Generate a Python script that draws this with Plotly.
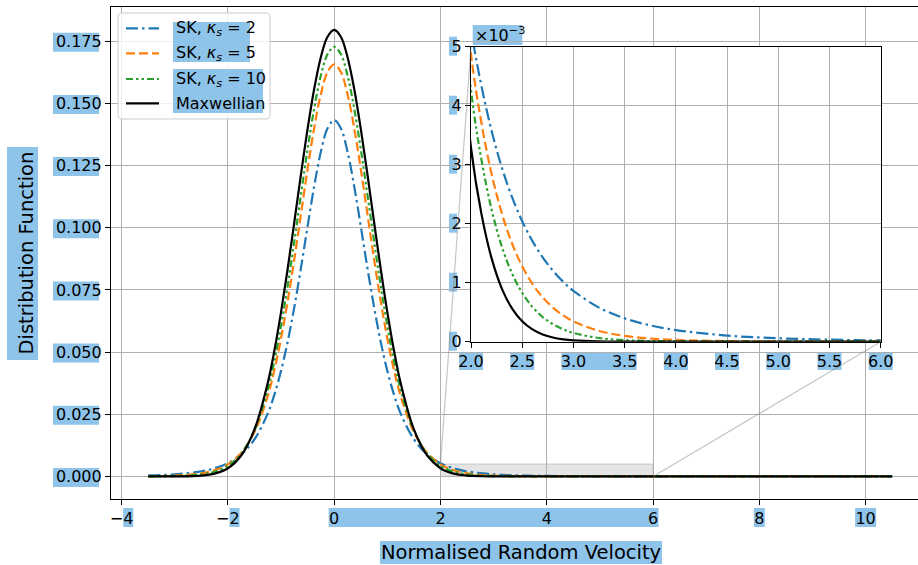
import plotly.graph_objects as go

# ---------------------------------------------------------------------------
# Data: normalised random velocity and the distribution function values
# ---------------------------------------------------------------------------
velocity = [-3.5, -3.0, -2.5, -2.25, -2.0, -1.75, -1.5, -1.25, -1.125, -1.0, -0.875, -0.75,
            -0.625, -0.5, -0.375, -0.25, -0.125,
            0.0, 0.125, 0.25, 0.375, 0.5, 0.625, 0.75, 0.875, 1.0, 1.125, 1.25, 1.5, 1.75,
            2.0, 2.1, 2.2, 2.3, 2.4, 2.5, 2.6, 2.7, 2.8, 2.9, 3.0,
            3.25, 3.5, 3.75, 4.0, 4.5, 5.0, 5.5, 6.0, 7.0, 8.0, 9.0, 10.0, 10.5]

sk_kappa2 = [0.000396, 0.000861, 0.002042, 0.003254, 0.005307, 0.008835, 0.014933, 0.025354,
             0.032916, 0.042456, 0.054191, 0.068126,
             0.083901, 0.100636, 0.116864, 0.130654, 0.139983,
             0.143290, 0.139983, 0.130654, 0.116864, 0.100636, 0.083901, 0.068126, 0.054191,
             0.042456, 0.032916, 0.025354, 0.014933, 0.008835,
             0.005307, 0.004352, 0.003582, 0.002959, 0.002453, 0.002042, 0.001705, 0.001430,
             0.001203, 0.001016, 0.000861,
             0.000578, 0.000396, 0.000277, 0.000197, 0.000104, 0.0000582, 0.0000342, 0.0000209,
             0.0000086, 0.0000040, 0.0000020, 0.0000011, 0.0000008]

sk_kappa5 = [0.0000983, 0.000344, 0.001277, 0.002494, 0.004872, 0.009427, 0.017830, 0.032416,
             0.042794, 0.055497, 0.070484, 0.087409,
             0.105522, 0.123658, 0.140307, 0.153811, 0.162640,
             0.165713, 0.162640, 0.153811, 0.140307, 0.123658, 0.105522, 0.087409, 0.070484,
             0.055497, 0.042794, 0.032416, 0.017830, 0.009427,
             0.004872, 0.003729, 0.002852, 0.002181, 0.001668, 0.001277, 0.000979, 0.000751,
             0.000578, 0.000445, 0.000344,
             0.000182, 0.0000983, 0.0000540, 0.0000302, 0.0000100, 0.0000036, 0.0000014, 0.0000005,
             0.0000001, 0.0, 0.0, 0.0, 0.0]

sk_kappa10 = [0.0000261, 0.000148, 0.000828, 0.001908, 0.004266, 0.009144, 0.018532, 0.034983,
              0.046571, 0.060549, 0.076735, 0.094622,
              0.113335, 0.131661, 0.148155, 0.161310, 0.169811,
              0.172753, 0.169811, 0.161310, 0.148155, 0.131661, 0.113335, 0.094622, 0.076735,
              0.060549, 0.046571, 0.034983, 0.018532, 0.009144,
              0.004266, 0.003105, 0.002247, 0.001618, 0.001160, 0.000828, 0.000589, 0.000418,
              0.000297, 0.000210, 0.000148,
              0.0000622, 0.0000261, 0.0000110, 0.0000047, 0.0000009, 0.0000002, 0.0, 0.0,
              0.0, 0.0, 0.0, 0.0, 0.0]

maxwellian = [0.0000009, 0.0000222, 0.000347, 0.001137, 0.003289, 0.008400, 0.018928, 0.037643,
              0.050655, 0.066066, 0.083516, 0.102326,
              0.121515, 0.139862, 0.156028, 0.168706, 0.176803,
              0.179587, 0.176803, 0.168706, 0.156028, 0.139862, 0.121515, 0.102326, 0.083516,
              0.066066, 0.050655, 0.037643, 0.018928, 0.008400,
              0.003289, 0.002183, 0.001420, 0.000905, 0.000566, 0.000347, 0.000208, 0.000123,
              0.0000707, 0.0000400, 0.0000222,
              0.0000047, 0.0000009, 0.0000001, 0.0, 0.0, 0.0, 0.0, 0.0,
              0.0, 0.0, 0.0, 0.0, 0.0]

series_labels = ["SK, <i>κ<sub>s</sub></i> = 2", "SK, <i>κ<sub>s</sub></i> = 5",
                 "SK, <i>κ<sub>s</sub></i> = 10", "Maxwellian"]

main_xticks = [-4, -2, 0, 2, 4, 6, 8, 10]
main_yticks = [0.0, 0.025, 0.05, 0.075, 0.1, 0.125, 0.15, 0.175]
inset_xticks = [2.0, 2.5, 3.0, 3.5, 4.0, 4.5, 5.0, 5.5, 6.0]
inset_yticks = [0.0, 0.001, 0.002, 0.003, 0.004, 0.005]
inset_yticklabels = ["0", "1", "2", "3", "4", "5"]

x_title = "Normalised Random Velocity"
y_title = "Distribution Function"
inset_offset_text = "×10<sup>−3</sup>"

# ---------------------------------------------------------------------------
# Geometry and styling
# ---------------------------------------------------------------------------
FIG_W, FIG_H = 918, 565
M_L, M_R, M_T, M_B = 111, 0, 7, 66
PLOT_W = FIG_W - M_L - M_R
PLOT_H = FIG_H - M_T - M_B

X_RANGE = [-4.2, 10.986]
Y_RANGE = [-0.00908, 0.18878]
INSET_X_RANGE = [2.0, 6.0]
INSET_Y_RANGE = [0.0, 0.005]
INSET_LEFT, INSET_RIGHT, INSET_TOP, INSET_BOTTOM = 471.0, 880.7, 46.7, 341.7

FONT = "DejaVu Sans"
TICK_SIZE = 16
TITLE_SIZE = 19.5
HIGHLIGHT = "#8fc4ea"
GRID = "#b0b0b0"

styles = [
    dict(color="#1f77b4", dash="12px,4px,2.5px,4px"),
    dict(color="#ff7f0e", dash="9px,4px"),
    dict(color="#2ca02c", dash="7px,3px,2.5px,3px,2.5px,3px"),
    dict(color="#000000", dash="solid"),
]
LINE_W = 2.2


def paper_x(px):
    return (px - M_L) / PLOT_W


def paper_y(py):
    return (FIG_H - M_B - py) / PLOT_H


def main_px_x(v):
    return M_L + (v - X_RANGE[0]) / (X_RANGE[1] - X_RANGE[0]) * PLOT_W


def main_px_y(f):
    return M_T + (Y_RANGE[1] - f) / (Y_RANGE[1] - Y_RANGE[0]) * PLOT_H


def main_data_x(px):
    return X_RANGE[0] + (px - M_L) / PLOT_W * (X_RANGE[1] - X_RANGE[0])


def main_data_y(py):
    return Y_RANGE[1] - (py - M_T) / PLOT_H * (Y_RANGE[1] - Y_RANGE[0])


def inset_px_x(v):
    return INSET_LEFT + (v - INSET_X_RANGE[0]) / (INSET_X_RANGE[1] - INSET_X_RANGE[0]) * (INSET_RIGHT - INSET_LEFT)


def inset_px_y(f):
    return INSET_BOTTOM - (f - INSET_Y_RANGE[0]) / (INSET_Y_RANGE[1] - INSET_Y_RANGE[0]) * (INSET_BOTTOM - INSET_TOP)


def px_rect(x0, x1, y0, y1, layer="below", fill=HIGHLIGHT):
    return dict(type="rect", xref="paper", yref="paper", layer=layer,
                x0=paper_x(x0), x1=paper_x(x1), y0=paper_y(y1), y1=paper_y(y0),
                fillcolor=fill, line=dict(width=0))


series = [sk_kappa2, sk_kappa5, sk_kappa10, maxwellian]

fig = go.Figure()

# opaque backing for the inset panel so the main grid does not show through it
bx0, bx1 = main_data_x(INSET_LEFT), main_data_x(INSET_RIGHT)
by0, by1 = main_data_y(INSET_BOTTOM), main_data_y(INSET_TOP)
fig.add_trace(go.Scatter(
    x=[bx0, bx1, bx1, bx0, bx0], y=[by0, by0, by1, by1, by0], mode="lines",
    fill="toself", fillcolor="white", line=dict(width=0, color="white"),
    showlegend=False, hoverinfo="skip", xaxis="x", yaxis="y"))

# main panel curves
for label, values, st in zip(series_labels, series, styles):
    fig.add_trace(go.Scatter(
        x=velocity, y=values, mode="lines", name=label, showlegend=False,
        line=dict(color=st["color"], dash=st["dash"], width=LINE_W, shape="spline", smoothing=1.0),
        xaxis="x", yaxis="y", hoverinfo="skip"))

# zoomed tail curves
for label, values, st in zip(series_labels, series, styles):
    fig.add_trace(go.Scatter(
        x=velocity, y=values, mode="lines", name=label, showlegend=False,
        line=dict(color=st["color"], dash=st["dash"], width=LINE_W, shape="spline", smoothing=1.0),
        xaxis="x2", yaxis="y2", hoverinfo="skip"))

axis_common = dict(showgrid=True, gridcolor=GRID, gridwidth=1.1, zeroline=False,
                   showline=True, linecolor="black", linewidth=1.2, automargin=False,
                   ticks="outside", ticklen=5, tickwidth=1.2, tickcolor="black",
                   tickfont=dict(family=FONT, size=TICK_SIZE, color="black"))

inset_dom_x = [paper_x(INSET_LEFT), paper_x(INSET_RIGHT)]
inset_dom_y = [paper_y(INSET_BOTTOM), paper_y(INSET_TOP)]

fig.update_layout(
    width=FIG_W, height=FIG_H, autosize=False,
    margin=dict(l=M_L, r=M_R, t=M_T, b=M_B, pad=0, autoexpand=False),
    paper_bgcolor="white", plot_bgcolor="white",
    font=dict(family=FONT, size=TICK_SIZE, color="black"),
    showlegend=False,
    xaxis=dict(axis_common, range=X_RANGE, tickvals=main_xticks, mirror=True,
               domain=[0, 1], anchor="y"),
    yaxis=dict(axis_common, range=Y_RANGE, tickvals=main_yticks, tickformat=".3f",
               domain=[0, 1], anchor="x"),
    xaxis2=dict(axis_common, range=INSET_X_RANGE, tickvals=inset_xticks, tickformat=".1f",
                mirror=True, domain=inset_dom_x, anchor="y2"),
    yaxis2=dict(axis_common, range=INSET_Y_RANGE, tickvals=inset_yticks, ticktext=inset_yticklabels,
                mirror=True, domain=inset_dom_y, anchor="x2"),
)

shapes = []
annotations = []

# --- label highlight bands ---------------------------------------------------
for t in main_yticks:
    py = main_px_y(t)
    shapes.append(px_rect(53, 99, py - 8.5, py + 10.5))
for t in (-4, -2):
    px = main_px_x(t)
    shapes.append(px_rect(px + 1.6, px + 11.6, 508, 527))
shapes.append(px_rect(main_px_x(0) - 5.5, main_px_x(6) + 5.5, 508, 527))
shapes.append(px_rect(main_px_x(8) - 5.5, main_px_x(8) + 5.5, 508, 527))
shapes.append(px_rect(main_px_x(10) - 10.5, main_px_x(10) + 10.5, 508, 527))
for t in inset_xticks:
    if t in (3.0, 3.5):
        continue
    px = inset_px_x(t)
    shapes.append(px_rect(px - 12, px + 12, 352, 370))
shapes.append(px_rect(inset_px_x(3.0) - 12, inset_px_x(3.5) + 12, 352, 370))
for t in inset_yticks:
    py = inset_px_y(t)
    shapes.append(px_rect(449, 457, py - 10, py + 9))
shapes.append(px_rect(472.7, 522.3, 25, 45))          # offset text
shapes.append(px_rect(380, 662, 541, 564))            # x title
shapes.append(px_rect(7, 38, 147, 360))               # y title

# --- zoom indicator and connectors -----------------------------------------
shapes.append(dict(type="rect", xref="x", yref="y", layer="below",
                   x0=INSET_X_RANGE[0], x1=INSET_X_RANGE[1], y0=INSET_Y_RANGE[0], y1=INSET_Y_RANGE[1],
                   fillcolor="rgba(0,0,0,0.1)", line=dict(color="rgba(128,128,128,0.35)", width=1)))
shapes.append(dict(type="line", xref="paper", yref="paper", layer="above",
                   x0=paper_x(main_px_x(INSET_X_RANGE[0])), y0=paper_y(main_px_y(INSET_Y_RANGE[1])),
                   x1=inset_dom_x[0], y1=inset_dom_y[1],
                   line=dict(color="rgba(128,128,128,0.45)", width=1.2)))
shapes.append(dict(type="line", xref="paper", yref="paper", layer="above",
                   x0=paper_x(main_px_x(INSET_X_RANGE[1])), y0=paper_y(main_px_y(INSET_Y_RANGE[0])),
                   x1=inset_dom_x[1], y1=inset_dom_y[0],
                   line=dict(color="rgba(128,128,128,0.45)", width=1.2)))

# --- legend ------------------------------------------------------------------
LEG_L, LEG_R, LEG_T, LEG_B, R = 118, 270, 13, 119, 4


def P(px, py):
    return f"{paper_x(px):.5f},{paper_y(py):.5f}"


leg_path = (f"M{P(LEG_L + R, LEG_T)} L{P(LEG_R - R, LEG_T)} Q{P(LEG_R, LEG_T)} {P(LEG_R, LEG_T + R)} "
            f"L{P(LEG_R, LEG_B - R)} Q{P(LEG_R, LEG_B)} {P(LEG_R - R, LEG_B)} "
            f"L{P(LEG_L + R, LEG_B)} Q{P(LEG_L, LEG_B)} {P(LEG_L, LEG_B - R)} "
            f"L{P(LEG_L, LEG_T + R)} Q{P(LEG_L, LEG_T)} {P(LEG_L + R, LEG_T)} Z")
shapes.append(dict(type="path", xref="paper", yref="paper", layer="above", path=leg_path,
                   fillcolor="rgba(255,255,255,0.8)", line=dict(color="#cccccc", width=1)))
shapes.append(px_rect(173, 250, 22, 62, layer="above"))
shapes.append(px_rect(173, 263, 69, 113, layer="above"))

legend_rows = [28.3, 53.3, 79.0, 103.3]
for label, st, py in zip(series_labels, styles, legend_rows):
    shapes.append(dict(type="line", xref="paper", yref="paper", layer="above",
                       x0=paper_x(126), x1=paper_x(159), y0=paper_y(py), y1=paper_y(py),
                       line=dict(color=st["color"], dash=st["dash"], width=LINE_W)))
    annotations.append(dict(xref="paper", yref="paper", x=paper_x(174), y=paper_y(py),
                            xanchor="left", yanchor="middle", showarrow=False, text=label,
                            font=dict(family=FONT, size=TICK_SIZE, color="black")))

# --- titles and offset text ----------------------------------------------------
annotations.append(dict(xref="paper", yref="paper", x=paper_x(521), y=paper_y(552.5),
                        xanchor="center", yanchor="middle", showarrow=False, text=x_title,
                        font=dict(family=FONT, size=TITLE_SIZE, color="black")))
annotations.append(dict(xref="paper", yref="paper", x=paper_x(26), y=paper_y(253.5),
                        xanchor="center", yanchor="middle", showarrow=False, text=y_title,
                        textangle=-90, font=dict(family=FONT, size=TITLE_SIZE, color="black")))
annotations.append(dict(xref="paper", yref="paper", x=paper_x(473), y=paper_y(35),
                        xanchor="left", yanchor="middle", showarrow=False, text=inset_offset_text,
                        font=dict(family=FONT, size=TICK_SIZE, color="black")))

fig.update_layout(shapes=shapes, annotations=annotations)

fig.write_html("out.html")
